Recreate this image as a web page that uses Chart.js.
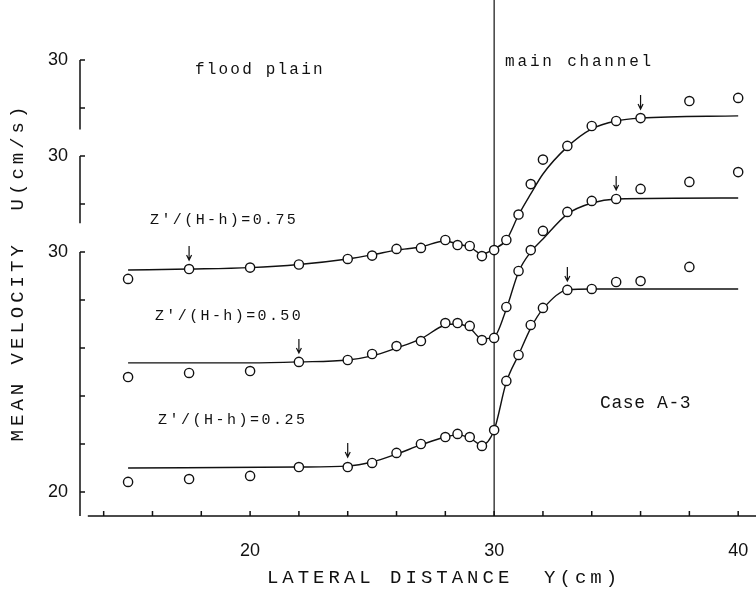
<!DOCTYPE html>
<html>
<head>
<meta charset="utf-8">
<script src="https://cdn.jsdelivr.net/npm/chart.js@4.4.1/dist/chart.umd.min.js"></script>
<style>
  html, body { margin: 0; padding: 0; background: #fff; }
  #wrap { width: 756px; height: 598px; }
</style>
</head>
<body>
<div id="wrap"><canvas id="chartVel"></canvas></div>
<script>
// Case A-3 - mean velocity profiles across flood plain / main channel

// lateral distance of the measuring points, Y (cm)
const posY = [15, 17.5, 20, 22, 24, 25, 26, 27, 28, 28.5, 29, 29.5, 30, 30.5, 31, 31.5, 32, 33, 34, 35, 36, 38, 40];

// measured U (cm/s), each read on its own axis
const u075 = [20.88, 21.29, 21.35, 21.48, 21.71, 21.85, 22.13, 22.17, 22.5, 22.29, 22.25, 21.83, 22.08, 22.5, 23.56, 24.83, 25.85, 26.42, 27.25, 27.46, 27.58, 28.29, 28.42];
const u050 = [20.79, 20.96, 21.04, 21.42, 21.5, 21.75, 22.08, 22.29, 23.04, 23.04, 22.92, 22.33, 22.42, 23.71, 25.21, 26.08, 26.88, 27.67, 28.13, 28.21, 28.63, 28.92, 29.33];
const u025 = [20.42, 20.54, 20.67, 21.04, 21.04, 21.21, 21.63, 22.0, 22.29, 22.42, 22.29, 21.92, 22.58, 24.63, 25.71, 26.96, 27.67, 28.42, 28.46, 28.75, 28.79, 29.38];

// drawn curves
const fitPos075 = [15, 17.5, 20, 22, 24, 25, 26, 27, 28, 28.5, 29, 29.5, 30, 30.5, 31, 31.5, 32, 33, 34, 35, 36, 40];
const fitU075 = [21.25, 21.29, 21.35, 21.48, 21.71, 21.88, 22.08, 22.21, 22.46, 22.33, 22.21, 21.92, 22.13, 22.5, 23.54, 24.42, 25.25, 26.38, 27.13, 27.46, 27.58, 27.67];
const fitPos050 = [15, 20, 22, 24, 25, 26, 27, 28, 28.5, 29, 29.5, 30, 30.5, 31, 31.5, 32, 33, 34, 35, 40];
const fitU050 = [21.38, 21.38, 21.42, 21.5, 21.67, 22.0, 22.38, 22.96, 23.0, 22.83, 22.38, 22.46, 23.63, 25.17, 26.0, 26.54, 27.58, 28.04, 28.21, 28.25];
const fitPos025 = [15, 22, 24, 25, 26, 27, 28, 28.5, 29, 29.5, 30, 30.5, 31, 31.5, 32, 33, 34, 40];
const fitU025 = [21.0, 21.04, 21.08, 21.25, 21.58, 21.96, 22.29, 22.38, 22.25, 21.96, 22.58, 24.58, 25.71, 26.83, 27.63, 28.42, 28.46, 28.46];

// arrows (edges of the mixing region)
const arrowPos075 = [17.5, 36];
const arrowPos050 = [22, 35];
const arrowPos025 = [24, 33];

// vertical shift of each profile on the common axis
const shift075 = 8;
const shift050 = 4;
const shift025 = 0;

// axis ticks
const xTicks = [20, 30, 40];
const xMinorTicks = [14, 16, 18, 20, 22, 24, 26, 28, 30, 32, 34, 36, 38, 40];
const yTicks = [20, 30, 34, 38];
const yTickLabels = ['20', '30', '30', '30'];
const axisTicks025 = [20, 22, 24, 26, 28, 30];
const axisTicks050 = [28, 30];
const axisTicks075 = [28, 30];
const axisRange025 = [19, 30];
const axisRange050 = [27.2, 30];
const axisRange075 = [27.1, 30];
const channelEdge = 30;

const INK = '#111';
const MONO = '"Liberation Mono", "DejaVu Sans Mono", monospace';

function points(pos, vals, shift) {
    return vals.map((v, i) => ({ x: pos[i], y: v + shift }));
}

function markSet(pos, vals, shift) {
    return {
        data: points(pos, vals, shift),
        showLine: false,
        pointStyle: 'circle',
        pointRadius: 4.6,
        pointBorderWidth: 1.4,
        pointBackgroundColor: '#fff',
        pointBorderColor: INK,
        order: 0
    };
}

function curveSet(pos, vals, shift) {
    return {
        data: points(pos, vals, shift),
        showLine: true,
        borderColor: INK,
        borderWidth: 1.4,
        pointRadius: 0,
        cubicInterpolationMode: 'monotone',
        order: 1
    };
}

// no extra room for tick labels: keep the plot box where the figure has it
function noPadding(s) {
    s.paddingTop = 0;
    s.paddingBottom = 0;
    s.paddingLeft = 0;
    s.paddingRight = 0;
}

// axes, arrows and texts drawn the way the paper figure has them
const paperPlugin = {
    id: 'paper',
    afterDatasetsDraw(chart) {
        const { ctx, scales: { x, y } } = chart;
        ctx.save();
        ctx.strokeStyle = INK;
        ctx.fillStyle = INK;
        ctx.lineWidth = 1.5;

        // broken velocity axis
        const ax = x.left;
        [[axisRange025, axisTicks025, shift025], [axisRange050, axisTicks050, shift050], [axisRange075, axisTicks075, shift075]]
            .forEach(([range, ticks, shift]) => {
                ctx.beginPath();
                ctx.moveTo(ax, y.getPixelForValue(range[0] + shift));
                ctx.lineTo(ax, y.getPixelForValue(range[1] + shift));
                ticks.forEach(t => {
                    const py = y.getPixelForValue(t + shift);
                    ctx.moveTo(ax, py);
                    ctx.lineTo(ax + 5, py);
                });
                ctx.stroke();
            });

        // lateral distance axis
        const by = y.getPixelForValue(19);
        ctx.beginPath();
        ctx.moveTo(x.getPixelForValue(13.35), by);
        ctx.lineTo(x.right, by);
        xMinorTicks.forEach(t => {
            const px = x.getPixelForValue(t);
            ctx.moveTo(px, by);
            ctx.lineTo(px, by - 5);
        });
        ctx.stroke();

        // arrows
        ctx.lineWidth = 1.2;
        [[arrowPos075, fitPos075, fitU075, shift075], [arrowPos050, fitPos050, fitU050, shift050], [arrowPos025, fitPos025, fitU025, shift025]]
            .forEach(([arrows, pos, vals, shift]) => {
                arrows.forEach(a => {
                    const px = x.getPixelForValue(a);
                    const py = y.getPixelForValue(vals[pos.indexOf(a)] + shift);
                    ctx.beginPath();
                    ctx.moveTo(px, py - 23);
                    ctx.lineTo(px, py - 9);
                    ctx.moveTo(px - 2.5, py - 14);
                    ctx.lineTo(px, py - 9);
                    ctx.lineTo(px + 2.5, py - 14);
                    ctx.stroke();
                });
            });

        // texts
        const text = (str, xv, yv, size, spacing) => {
            ctx.font = size + 'px ' + MONO;
            ctx.letterSpacing = spacing + 'px';
            ctx.textAlign = 'left';
            ctx.textBaseline = 'middle';
            ctx.fillText(str, x.getPixelForValue(xv), y.getPixelForValue(yv));
        };
        text('flood plain', 17.74, 37.58, 16, 2.2);
        text('main channel', 30.45, 37.92, 16, 2.8);
        text('Z\u2032/(H-h)=0.75', 15.9, 31.33, 15, 2.4);
        text('Z\u2032/(H-h)=0.50', 16.1, 27.33, 15, 2.4);
        text('Z\u2032/(H-h)=0.25', 16.23, 23.0, 15, 2.5);
        text('Case A-3', 34.34, 23.71, 18, 0.6);

        // axis titles
        ctx.font = '19px ' + MONO;
        ctx.letterSpacing = '4px';
        ctx.textAlign = 'center';
        ctx.textBaseline = 'middle';
        ctx.fillText('LATERAL DISTANCE  Y(cm)', 444, 578);
        ctx.translate(18, 272);
        ctx.rotate(-Math.PI / 2);
        ctx.fillText('MEAN VELOCITY  U(cm/s)', 0, 0);
        ctx.restore();
    }
};

function initVelocityChart() {
    const ctx = document.getElementById('chartVel').getContext('2d');
    new Chart(ctx, {
        type: 'scatter',
        data: {
            datasets: [
                markSet(posY, u075, shift075),
                markSet(posY, u050, shift050),
                markSet(posY, u025, shift025),
                curveSet(fitPos075, fitU075, shift075),
                curveSet(fitPos050, fitU050, shift050),
                curveSet(fitPos025, fitU025, shift025),
                {
                    data: [{ x: channelEdge, y: 19 }, { x: channelEdge, y: 40.5 }],
                    showLine: true,
                    borderColor: INK,
                    borderWidth: 1.2,
                    pointRadius: 0,
                    order: 2
                }
            ]
        },
        options: {
            responsive: true,
            maintainAspectRatio: false,
            animation: false,
            layout: { padding: 0, autoPadding: false },
            plugins: { legend: { display: false }, tooltip: { enabled: false } },
            scales: {
                x: {
                    type: 'linear',
                    min: 13.03,
                    max: 40.73,
                    grid: { display: false },
                    border: { display: false },
                    afterBuildTicks: s => { s.ticks = xTicks.map(v => ({ value: v })); },
                    afterFit: s => { s.height = 82; noPadding(s); },
                    ticks: {
                        color: INK,
                        padding: 16,
                        maxRotation: 0,
                        font: { family: '"Liberation Sans", Arial, sans-serif', size: 18 }
                    }
                },
                y: {
                    type: 'linear',
                    min: 19,
                    max: 40.5,
                    grid: { display: false },
                    border: { display: false },
                    afterBuildTicks: s => { s.ticks = yTicks.map(v => ({ value: v })); },
                    afterFit: s => { s.width = 80; noPadding(s); },
                    ticks: {
                        color: INK,
                        padding: 4,
                        callback: (v, i) => yTickLabels[i],
                        font: { family: '"Liberation Sans", Arial, sans-serif', size: 18 }
                    }
                }
            }
        },
        plugins: [paperPlugin]
    });
}

window.addEventListener('DOMContentLoaded', () => {
    initVelocityChart();
});
</script>
</body>
</html>
